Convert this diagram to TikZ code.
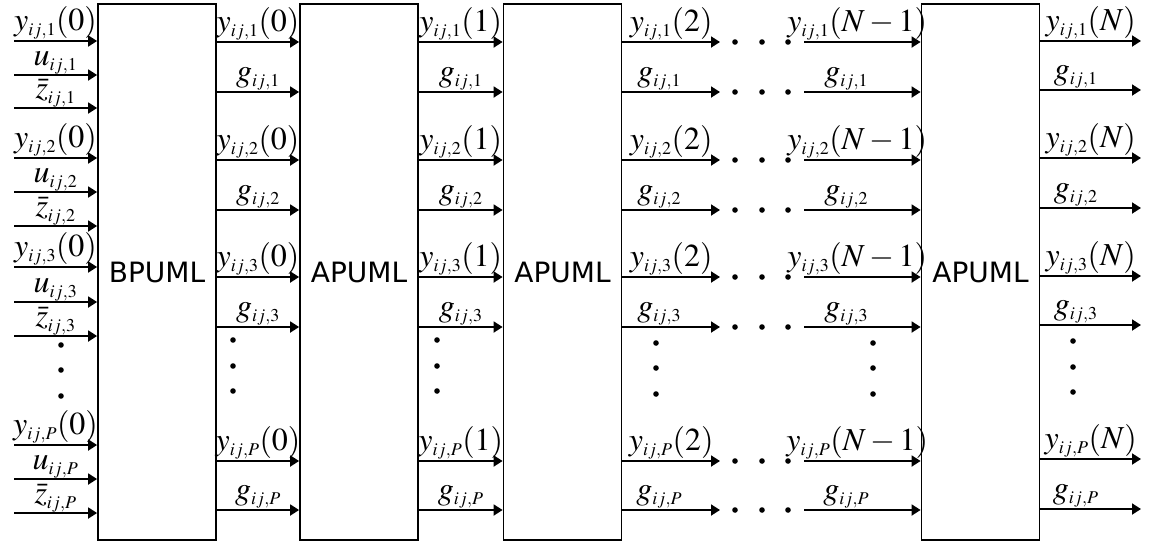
\documentclass[tikz,border=0pt]{standalone}
\usepackage{mathptmx}
\usepackage[no-math]{fontspec}
\newfontfamily\boxfont{DejaVu Sans}
\usepackage{tikz}
\usetikzlibrary{arrows.meta, positioning, calc}
\DeclareMathSizes{32}{32}{18}{13}

\tikzset{
  unit/.style={draw, line width=1.8pt, minimum width=118pt, minimum height=536pt,
               inner sep=0pt, font=\boxfont\fontsize{28}{32}\selectfont},
  sig/.style={line width=1.8pt, -{Triangle[length=9pt,width=11pt]}},
  lab/.style={font=\fontsize{32}{36}\selectfont, inner sep=1pt, above},
  slim/.style={inner sep=0pt}
}

\begin{document}
\begin{tikzpicture}[x=1pt, y=-1pt]
  \useasboundingbox (0,0) rectangle (1155,544);

  % The four processing units
  \node[unit] (bp)  at (157,272)   {BPUML};
  \node[unit] (ap1) at (359,272)   {APUML};
  \node[unit] (ap2) at (562.5,272) {APUML};
  \node[unit] (apN) at (980.5,272) {APUML};

  % Inputs of the first unit
  \foreach \k/\ya/\yb/\yc in {1/41/75/108, 2/158/192/226, 3/267/302/336, P/445/479/513} {
    \coordinate (iy\k) at (14,\ya);
    \coordinate (iu\k) at (14,\yb);
    \coordinate (iz\k) at (14,\yc);
    \draw[sig] (iy\k) -- (bp.west |- iy\k) node[lab, midway] {$y_{ij,\k}(0)$};
    \draw[sig] (iu\k) -- (bp.west |- iu\k) node[lab, slim, midway] {$u_{ij,\k}$};
    \draw[sig] (iz\k) -- (bp.west |- iz\k) node[lab, slim, midway] {$\bar{z}_{ij,\k}$};
  }
  \foreach \yy in {345,370,396} \fill (61,\yy) circle (2.8pt);

  % Links between the first units
  \foreach \a/\b/\t in {bp/ap1/0, ap1/ap2/1} {
    \foreach \k/\yy/\yg in {1/42/92, 2/160/210, 3/277/327, P/461/510} {
      \draw[sig] (\a.east |- 0,\yy) -- (\b.west |- 0,\yy) node[lab, midway] {$y_{ij,\k}(\t)$};
      \draw[sig] (\a.east |- 0,\yg) -- (\b.west |- 0,\yg) node[lab, midway] {$g_{ij,\k}$};
    }
  }
  \foreach \xx in {233,437} {
    \foreach \yy in {340,366,391} \fill (\xx,\yy) circle (2.8pt);
  }

  % Skipped stages 2 ... N-1
  \foreach \k/\yy/\yg in {1/42/92, 2/160/210, 3/277/327, P/461/510} {
    \coordinate (ey\k) at (720,\yy);
    \coordinate (eg\k) at (720,\yg);
    \coordinate (sy\k) at (804,\yy);
    \coordinate (sg\k) at (804,\yg);
    \draw[sig] (ap2.east |- ey\k) -- (ey\k) node[lab, midway] {$y_{ij,\k}(2)$};
    \draw[sig] (ap2.east |- eg\k) -- (eg\k) node[lab, midway, xshift=-12pt] {$g_{ij,\k}$};
    \draw[sig] (sy\k) -- (apN.west |- sy\k) node[lab, midway, xshift=-5pt] {$y_{ij,\k}(N-1)$};
    \draw[sig] (sg\k) -- (apN.west |- sg\k) node[lab, midway, xshift=-16pt] {$g_{ij,\k}$};
    \foreach \xx in {735,762,788} {
      \fill (\xx,\yy) circle (2.8pt);
      \fill (\xx,\yg) circle (2.8pt);
    }
  }
  \foreach \xx in {656,873} {
    \foreach \yy in {343,368,394} \fill (\xx,\yy) circle (2.8pt);
  }

  % Outputs of the last unit
  \foreach \k/\yy/\yg in {1/41/90, 2/158/208, 3/276/325, P/459/509} {
    \coordinate (oy\k) at (1141,\yy);
    \coordinate (og\k) at (1141,\yg);
    \draw[sig] (apN.east |- oy\k) -- (oy\k) node[lab, midway] {$y_{ij,\k}(N)$};
    \draw[sig] (apN.east |- og\k) -- (og\k) node[lab, midway, xshift=-15pt] {$g_{ij,\k}$};
  }
  \foreach \yy in {341,367,392} \fill (1073,\yy) circle (2.8pt);
\end{tikzpicture}
\end{document}
